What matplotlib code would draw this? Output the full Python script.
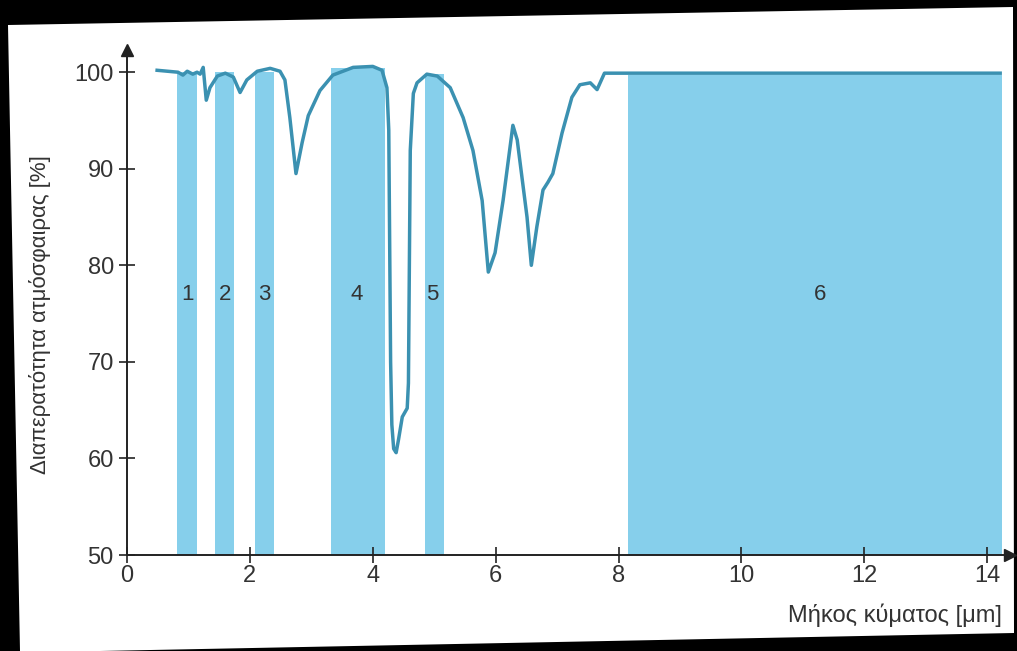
import matplotlib
matplotlib.use('Agg')
import matplotlib.pyplot as plt
from matplotlib.patches import Polygon

plt.rcParams['font.family'] = ['Liberation Sans', 'DejaVu Sans']

# καμπύλη διαπερατότητας (μήκος κύματος μm, %)
wavelength = [0.49, 0.83, 0.91, 0.98, 1.07, 1.14, 1.19, 1.24, 1.29, 1.35, 1.47, 1.60,
              1.73, 1.84, 1.95, 2.12, 2.33, 2.49, 2.57, 2.65, 2.75, 2.85, 2.95, 3.14,
              3.35, 3.68, 4.00, 4.15, 4.23, 4.26, 4.29, 4.31, 4.34, 4.38, 4.42, 4.48,
              4.56, 4.58, 4.61, 4.66, 4.72, 4.88, 5.05, 5.26, 5.47, 5.63, 5.78, 5.88,
              5.99, 6.12, 6.28, 6.35, 6.51, 6.58, 6.67, 6.77, 6.85, 6.93, 7.08, 7.24,
              7.37, 7.54, 7.65, 7.77, 8.00, 14.21]
transmission = [100.2, 100.0, 99.7, 100.1, 99.8, 100.0, 99.8, 100.5, 97.1, 98.4, 99.6, 99.9,
                99.5, 97.9, 99.2, 100.1, 100.4, 100.1, 99.2, 95.3, 89.5, 92.7, 95.5, 98.1,
                99.7, 100.5, 100.6, 100.2, 98.4, 94.0, 70.0, 63.5, 61.0, 60.6, 62.0, 64.3,
                65.2, 67.8, 91.9, 97.8, 98.9, 99.8, 99.6, 98.4, 95.3, 91.9, 86.7, 79.3,
                81.3, 86.7, 94.5, 93.0, 85.0, 80.0, 84.0, 87.8, 88.6, 89.5, 93.7, 97.4,
                98.7, 98.9, 98.2, 99.9, 99.9, 99.9]

# ατμοσφαιρικά παράθυρα
band_labels = ['1', '2', '3', '4', '5', '6']
band_start = [0.81, 1.43, 2.08, 3.32, 4.85, 8.16]
band_end = [1.14, 1.74, 2.39, 4.20, 5.16, 14.24]
band_top = [100.0, 100.0, 100.0, 100.4, 99.8, 99.7]
label_x = [0.99, 1.60, 2.23, 3.74, 4.97, 11.28]

xticks = [0, 2, 4, 6, 8, 10, 12, 14]
yticks = [50, 60, 70, 80, 90, 100]

band_color = '#86cfeb'
line_color = '#3b91b1'
axis_color = '#222222'
text_color = '#333333'

fig = plt.figure(figsize=(10.17, 6.51), dpi=100, facecolor='black')
W, H = 1017.0, 651.0
page = [(8, 25), (1013, 7), (1014, 633), (100, 651), (20, 651)]
fig.patches.append(Polygon([(x / W, 1 - y / H) for x, y in page], closed=True,
                           transform=fig.transFigure, facecolor='white',
                           edgecolor='none', zorder=-1))

ax = fig.add_axes([127 / W, 96 / H, 883 / W, 505 / H])
ax.set_facecolor('none')

for s, e, t in zip(band_start, band_end, band_top):
    ax.fill_between([s, e], 50, t, color=band_color, linewidth=0, zorder=1)

ax.plot(wavelength, transmission, color=line_color, linewidth=2.5, zorder=3,
        solid_joinstyle='round')

for lab, lx in zip(band_labels, label_x):
    ax.text(lx, 77, lab, ha='center', va='center', fontsize=16, color=text_color, zorder=4)

ax.set_xlim(0, 14.37)
ax.set_ylim(50, 102.3)
for side in ['top', 'right']:
    ax.spines[side].set_visible(False)
for side in ['left', 'bottom']:
    ax.spines[side].set_color(axis_color)
    ax.spines[side].set_linewidth(1.4)
    ax.spines[side].set_zorder(5)

ax.set_xticks(xticks)
ax.set_yticks(yticks)
ax.tick_params(axis='both', direction='inout', length=11, width=1.2, color=axis_color,
               labelsize=17, labelcolor=text_color)
ax.tick_params(axis='x', pad=2)
ax.tick_params(axis='y', pad=4)

# βέλη στα άκρα των αξόνων
ax.plot(1, 0, '>', color=axis_color, markersize=8, transform=ax.transAxes, clip_on=False)
ax.plot(0, 1, '^', color=axis_color, markersize=8, transform=ax.transAxes, clip_on=False)

fig.text(1002 / W, 1 - 615 / H, 'Μήκος κύματος [μm]', ha='right', va='center',
         fontsize=17, color=text_color)
fig.text(40 / W, 1 - 315 / H, 'Διαπερατότητα ατμόσφαιρας [%]', ha='center', va='center',
         rotation=90, fontsize=16, color=text_color)

fig.savefig('out.png', dpi=100, facecolor=fig.get_facecolor())
